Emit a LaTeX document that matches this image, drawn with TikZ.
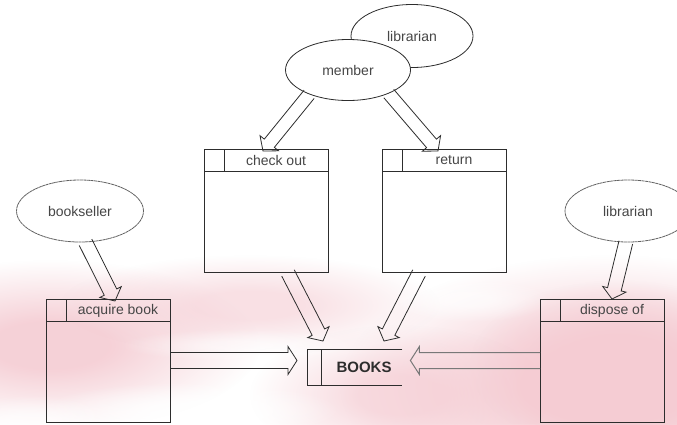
\documentclass[tikz,border=0pt]{standalone}
\usepackage{fontspec}
\setmainfont{Liberation Sans}
\usetikzlibrary{calc,shapes.geometric,fadings}

% soft-edged spot used for the pink wash behind the diagram
\pgfdeclareradialshading{softspotshade}{\pgfpointorigin}{color(0bp)=(white); color(7bp)=(white); color(25bp)=(black); color(50bp)=(black)}
\pgfdeclarefading{softspot}{\pgfuseshading{softspotshade}}

\definecolor{bgpink}{RGB}{245,204,211}
\definecolor{ink}{RGB}{45,45,45}
\definecolor{txt}{RGB}{70,70,70}
\definecolor{paleink}{RGB}{120,120,120}

\tikzset{
  boxline/.style={draw=ink, line width=1pt},
  actbox/.style={rectangle, boxline, minimum width=124pt, minimum height=123pt, inner sep=0pt},
  boxlabel/.style={inner sep=0pt, font=\fontsize{14}{16}\selectfont, text=txt},
  actor/.style={ellipse, draw=ink, fill=white, line width=0.8pt, inner sep=0pt,
                font=\fontsize{14}{16}\selectfont, text=txt},
  outsider/.style={actor, draw=ink!75, dash pattern=on 3pt off 0.5pt},
  harrow/.style={draw=ink, line width=0.8pt, line join=miter},
  paleharrow/.style={draw=paleink, line width=1pt, line join=miter},
  wash/.style={fill=bgpink, path fading=softspot},
  whitewash/.style={fill=white, path fading=softspot},
}

% activity box with a title strip and a small index cell
\newcommand{\actbox}[4]{%
  \node[actbox, anchor=north west] (#1) at (#2,#3) {};
  \draw[boxline] ($(#1.north west)+(0,22)$) -- ($(#1.north east)+(0,22)$);
  \draw[boxline] ($(#1.north west)+(20,0)$) -- ($(#1.north west)+(20,22)$);
  \node[boxlabel] (#1-label) at ($(#1.north west)+(72,11.5)$) {#4};
}

% open block arrow: style, start, tip, shaft half-width, head half-width, head length
\newcommand{\hollowarrow}[6]{%
  \coordinate (habase) at ($(#3)!#6!(#2)$);
  \draw[#1] ($(#2)!#4!90:(#3)$) -- ($(habase)!#4!90:(#3)$) -- ($(habase)!#5!90:(#3)$)
    -- (#3) -- ($(habase)!#5!-90:(#3)$) -- ($(habase)!#4!-90:(#3)$) -- ($(#2)!#4!-90:(#3)$);
}

\begin{document}
\begin{tikzpicture}[x=1pt, y=-1pt]
\useasboundingbox (0,0) rectangle (677,424);
\fill[white] (0,0) rectangle (677,424);

% pink wash
\begin{scope}
  \clip (0,0) rectangle (677,424);
  \fill[wash] (610,385) ellipse (270 and 130);
  \fill[wash] (620,365) ellipse (150 and 85);
  \fill[wash, opacity=0.9] (50,345) ellipse (210 and 85);
  \fill[wash, opacity=0.6] (250,305) ellipse (190 and 50);
  \fill[wash, opacity=0.7] (400,395) ellipse (150 and 70);
  \fill[whitewash, opacity=0.8] (190,410) ellipse (150 and 28);
  \fill[whitewash, opacity=0.6] (30,420) ellipse (80 and 25);
  \fill[whitewash, opacity=0.6] (470,300) ellipse (80 and 22);
  \fill[whitewash, opacity=0.5] (240,345) ellipse (120 and 16);
\end{scope}

% actors
\node[actor, minimum width=122pt, minimum height=63pt] (librarian) at (412,36) {librarian};
\node[actor, minimum width=125pt, minimum height=61pt] (member) at (348,70) {member};
\node[outsider, minimum width=127pt, minimum height=62pt] (bookseller) at (80,211) {bookseller};
\node[outsider, minimum width=126pt, minimum height=62pt] (librarian2) at (628,211) {librarian};

% activities
\actbox{checkout}{204}{149}{check out}
\actbox{return}{382}{149}{return}
\actbox{acquire}{46}{299}{acquire book}
\actbox{dispose}{540}{299}{dispose of}

% the BOOKS store
\node[inner sep=0pt, minimum width=95pt, minimum height=36pt, anchor=north west] (books) at (307,349) {};
\draw[boxline] (books.north east) -- (books.north west) -- (books.south west) -- (books.south east);
\draw[boxline] ($(books.north west)+(14,0)$) -- ($(books.south west)+(14,0)$);
\node[inner sep=0pt, font=\fontsize{15}{17}\selectfont\bfseries, text=ink] (books-label) at ($(books.west)+(57,0)$) {BOOKS};

% arrow end points on the boxes
\coordinate (tipcheckout) at ($(checkout.north west)+(59,2)$);
\coordinate (tipreturn) at ($(return.north west)+(56,2)$);
\coordinate (fromcheckout) at ($(checkout.south west)+(84,0)$);
\coordinate (fromreturn) at ($(return.south west)+(37,0)$);
\coordinate (booksleft) at ($(books.north west)+(16,-8)$);
\coordinate (booksright) at ($(books.north west)+(77,-8)$);
\coordinate (tipacquire) at ($(acquire.north west)+(69,2)$);
\coordinate (tipdispose) at ($(dispose.north west)+(72,0)$);
\coordinate (fromacquire) at ($(acquire.north east)+(0,61.5)$);
\coordinate (fromdispose) at ($(dispose.north west)+(0,61.5)$);
\coordinate (booksin) at ($(books.north west)+(-10,11.5)$);
\coordinate (booksout) at ($(books.north east)+(8,11.5)$);

% flows
\hollowarrow{harrow}{member.212}{tipcheckout}{6.5pt}{12pt}{10pt}
\hollowarrow{harrow}{member.-30}{tipreturn}{6.5pt}{12pt}{10pt}
\hollowarrow{harrow}{fromcheckout}{booksleft}{7pt}{12pt}{10pt}
\hollowarrow{harrow}{fromreturn}{booksright}{7pt}{12pt}{10pt}
\hollowarrow{harrow}{bookseller.-80}{tipacquire}{7pt}{12pt}{10pt}
\hollowarrow{harrow}{librarian2.-94}{tipdispose}{7pt}{12pt}{10pt}
\hollowarrow{harrow}{fromacquire}{booksin}{8pt}{14pt}{9pt}
\hollowarrow{paleharrow}{fromdispose}{booksout}{8pt}{14pt}{9pt}
\end{tikzpicture}
\end{document}
